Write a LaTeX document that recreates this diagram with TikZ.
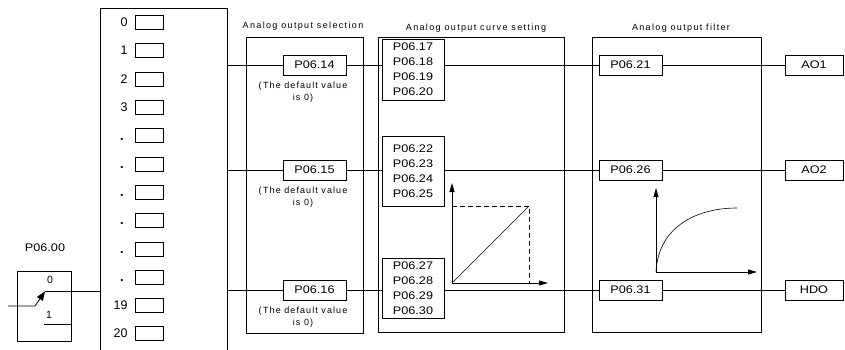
\documentclass[tikz,border=0pt]{standalone}
\usepackage{fontspec}
\setmainfont{Liberation Sans}
\newfontfamily\pfont[FakeStretch=1.15]{Liberation Sans}
\usetikzlibrary{arrows.meta}
\begin{document}
\begin{tikzpicture}[x=1pt,y=-1pt,line width=0.8pt,
  pbox/.style={draw, fill=white, minimum width=63pt, minimum height=20pt, inner sep=0pt, font=\pfont\fontsize{11}{13}\selectfont},
  obox/.style={draw, fill=white, minimum width=58pt, minimum height=20pt, inner sep=0pt, font=\pfont\fontsize{11}{13}\selectfont},
  grpbox/.style={draw, fill=white, minimum width=62pt, inner sep=0pt, align=center, font=\pfont\fontsize{11}{15}\selectfont},
  slot/.style={draw, minimum width=28pt, minimum height=14pt, inner sep=0pt},
  rowlab/.style={anchor=east, inner sep=0pt, font=\fontsize{12.5}{14}\selectfont},
  dotlab/.style={inner sep=0pt, font=\fontsize{13}{14}\selectfont\bfseries},
  ttl/.style={inner sep=0pt, font=\fontsize{9}{11}\selectfont\addfontfeature{LetterSpace=15}},
  note/.style={inner sep=0pt, align=center, font=\fontsize{9}{12}\selectfont\addfontfeature{LetterSpace=12}},
  frame/.style={draw, inner sep=0pt},
  tip/.style={-{Triangle[length=9pt,width=7pt]}},
  ax/.style={-{Triangle[length=9pt,width=5pt]}}]
\useasboundingbox (0,0) rectangle (845,350);

% left selector box (open at bottom)
\draw (100,350) -- (100,8) -- (227,8) -- (227,350);
\foreach \y/\t [count=\i] in {22/0,50.5/1,79/2,107/3,305/19,333/20}{
  \node[rowlab] (lab\i) at (128,\y) {\t};
}
\foreach \y [count=\i] in {139.5,168,196,224,253,281}{
  \node[dotlab] (dot\i) at (122,\y) {.};
}
\foreach \y [count=\i] in {22,50.5,79,107,135.5,164,192,220,249,277,305,333}{
  \node[slot] (slot\i) at (149,\y) {};
}
\coordinate (Lout1) at (227,65);
\coordinate (Lout2) at (227,170);
\coordinate (Lout3) at (227,290);
\coordinate (Lin) at (100,291);

% switch P06.00
\node[inner sep=0pt, font=\pfont\fontsize{11}{13}\selectfont] (p00) at (45,248) {P06.00};
\node[frame, minimum width=54pt, minimum height=70pt] (sw) at (44,306) {};
\node[inner sep=0pt, font=\fontsize{10.5}{12}\selectfont] (s0) at (50,280) {0};
\node[inner sep=0pt, font=\fontsize{10.5}{12}\selectfont] (s1) at (49,315) {1};
\coordinate (c0) at (45,291);
\coordinate (c1) at (44,324);
\coordinate (c1e) at (71,324);
\coordinate (inA) at (8,306);
\coordinate (inB) at (35,306);
\coordinate (inC) at (45,291.5);
\draw (c0) -- (Lin);
\draw (c1) -- (c1e);
\draw[tip] (inA) -- (inB) -- (inC);

% frames
\node[frame, minimum width=117pt, minimum height=296pt] (selbox) at (304.5,185) {};
\node[frame, minimum width=186pt, minimum height=295pt] (curvebox) at (471,184.5) {};
\node[frame, minimum width=169pt, minimum height=295pt] (filtbox) at (676.5,184.5) {};
\node[ttl] (t1) at (303,26) {Analog output selection};
\node[ttl] (t2) at (476,28) {Analog output curve setting};
\node[ttl] (t3) at (681,28) {Analog output filter};

% connectors behind boxes
\draw (Lout1) -- (283,65) coordinate (a14);
\draw (Lout2) -- (283,170) coordinate (a15);
\draw (Lout3) -- (283,290) coordinate (a16);

\node[pbox] (p14) at (314.5,65) {P06.14};
\node[pbox] (p15) at (314.5,170) {P06.15};
\node[pbox] (p16) at (314.5,290) {P06.16};
\node[pbox] (p21) at (630.5,65) {P06.21};
\node[pbox] (p26) at (630.5,170) {P06.26};
\node[pbox] (p31) at (630.5,290) {P06.31};
\node[obox] (ao1) at (814,65) {AO1};
\node[obox] (ao2) at (814,170) {AO2};
\node[obox] (hdo) at (814,290) {HDO};

\draw (p14.east) -- (p21.west);
\draw (p15.east) -- (p26.west);
\draw (p16.east) -- (p31.west);
\draw (p21.east) -- (ao1.west);
\draw (p26.east) -- (ao2.west);
\draw (p31.east) -- (hdo.west);

\node[grpbox, minimum height=61pt] (g1) at (413,69.5) {P06.17\\P06.18\\P06.19\\P06.20};
\node[grpbox, minimum height=70pt] (g2) at (413,171) {P06.22\\P06.23\\P06.24\\P06.25};
\node[grpbox, minimum height=60pt] (g3) at (413,288) {P06.27\\P06.28\\P06.29\\P06.30};

\node[note] (n1) at (303,92) {(\,The default value\\is 0)};
\node[note] (n2) at (303,197) {(\,The default value\\is 0)};
\node[note] (n3) at (303,317) {(\,The default value\\is 0)};

% linear curve graph
\coordinate (o1) at (452,283);
\coordinate (y1) at (452,183);
\coordinate (x1) at (548,283);
\coordinate (k1) at (529,206);
\coordinate (k1y) at (452,206);
\coordinate (k1x) at (529,283);
\draw[ax] (o1) -- (y1);
\draw[ax] (o1) -- (x1);
\draw[line width=0.6pt] (o1) -- (k1);
\draw[dashed, dash pattern=on 5pt off 3pt] (k1y) -- (k1) -- (k1x);

% filter graph
\coordinate (o2) at (656,272);
\coordinate (y2) at (656,188);
\coordinate (x2) at (757,272);
\coordinate (e2) at (737,208);
\draw[ax] (o2) -- (y2);
\draw[ax] (o2) -- (x2);
\draw[line width=0.6pt] (o2) .. controls (658,228) and (695,208) .. (e2);
\end{tikzpicture}
\end{document}
